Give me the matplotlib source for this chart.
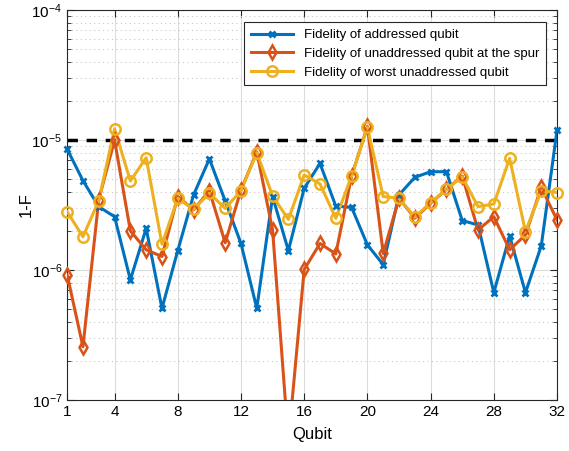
import numpy as np
import matplotlib
matplotlib.use("Agg")
import matplotlib.pyplot as plt
from matplotlib.lines import Line2D
from matplotlib.ticker import LogLocator, FixedLocator, LogFormatterMathtext, NullFormatter

plt.rcParams['font.family'] = ['Liberation Sans', 'DejaVu Sans']
plt.rcParams['mathtext.fontset'] = 'custom'
plt.rcParams['mathtext.rm'] = 'Liberation Sans'
plt.rcParams['mathtext.default'] = 'regular'

# data
qubits = np.arange(1, 33)
addressed = [8.5e-6, 4.87e-6, 3.07e-6, 2.57e-6, 8.4e-7, 2.09e-6, 5.07e-7, 1.41e-6,
             3.78e-6, 7.15e-6, 3.4e-6, 1.6e-6, 5.07e-7, 3.67e-6, 1.41e-6, 4.25e-6,
             6.6e-6, 3.1e-6, 3.03e-6, 1.56e-6, 1.1e-6, 3.78e-6, 5.16e-6, 5.7e-6,
             5.7e-6, 2.4e-6, 2.22e-6, 6.7e-7, 1.83e-6, 6.7e-7, 1.53e-6, 1.19e-5]
spur = [9.2e-7, 2.57e-7, 3.46e-6, 1.0e-5, 2.0e-6, 1.43e-6, 1.27e-6, 3.67e-6,
        2.9e-6, 4.07e-6, 1.62e-6, 4.12e-6, 8.1e-6, 2.03e-6, 4.8e-8, 1.01e-6,
        1.6e-6, 1.33e-6, 5.28e-6, 1.27e-5, 1.34e-6, 3.56e-6, 2.5e-6, 3.26e-6,
        4.17e-6, 5.28e-6, 2.03e-6, 2.57e-6, 1.43e-6, 1.86e-6, 4.32e-6, 2.42e-6]
worst = [2.81e-6, 1.8e-6, 3.41e-6, 1.22e-5, 4.84e-6, 7.3e-6, 1.58e-6, 3.56e-6,
         2.93e-6, 3.89e-6, 2.98e-6, 4.07e-6, 7.98e-6, 3.71e-6, 2.45e-6, 5.38e-6,
         4.59e-6, 2.5e-6, 5.28e-6, 1.25e-5, 3.67e-6, 3.56e-6, 2.55e-6, 3.3e-6,
         4.17e-6, 5.2e-6, 3.07e-6, 3.22e-6, 7.23e-6, 1.97e-6, 4.07e-6, 3.94e-6]
labels = ['Fidelity of addressed qubit',
          'Fidelity of unaddressed qubit at the spur',
          'Fidelity of worst unaddressed qubit']
threshold = 1e-5
xticks = [1, 4, 8, 12, 16, 20, 24, 28, 32]
ymin, ymax = 1e-7, 1e-4

colors = ['#0072BD', '#D95319', '#EDB120']
markers = [('x', 5, 2.0), ('d', 7.5, 1.8), ('o', 7.5, 1.8)]

fig = plt.figure(figsize=(5.69, 4.51), dpi=100)
ax = fig.add_axes([0.118, 0.113, 0.861, 0.865])

handles = []
for vals, c, (m, ms, mew), lab in zip([addressed, spur, worst], colors, markers, labels):
    vals = np.array(vals)
    ax.plot(qubits, vals, color=c, lw=2.2, zorder=3)
    # markers drawn unclipped so edge points are whole, but only inside the y-range
    vis = np.ma.masked_where(vals < ymin, vals)
    ax.plot(qubits, vis, ls='none', marker=m, ms=ms, mew=mew, mec=c, mfc='none',
            clip_on=False, zorder=4)
    handles.append(Line2D([], [], color=c, lw=2.2, marker=m, ms=ms, mew=mew, mfc='none'))
ax.axhline(threshold, color='k', lw=2.5, ls=(0, (3, 2.5)), zorder=2)

ax.set_yscale('log')
ax.set_ylim(ymin, ymax)
ax.set_xlim(1, 32)
ax.xaxis.set_major_locator(FixedLocator(xticks))
ax.yaxis.set_major_locator(LogLocator(base=10))
ax.yaxis.set_major_formatter(LogFormatterMathtext())
ax.yaxis.set_minor_locator(LogLocator(base=10, subs=np.arange(2, 10)))
ax.yaxis.set_minor_formatter(NullFormatter())

ax.grid(True, which='major', color='#dcdcdc', lw=0.8)
ax.grid(True, which='minor', axis='y', color='#c8c8c8', lw=0.8, ls=(0, (1, 3)))
ax.set_axisbelow(True)
ax.tick_params(which='both', direction='in', top=True, right=True, labelsize=11, color='#262626')
ax.tick_params(which='major', length=5)
ax.tick_params(which='minor', length=3)
for s in ax.spines.values():
    s.set_color('#262626')
    s.set_linewidth(0.8)

ax.set_xlabel('Qubit', fontsize=12, labelpad=6)
ax.set_ylabel('1-F', fontsize=12, labelpad=-2)

leg = ax.legend(handles, labels, loc='upper right', fontsize=9.5, fancybox=False, framealpha=1,
                edgecolor='#262626', borderpad=0.5, handlelength=3.2, labelspacing=0.5,
                bbox_to_anchor=(0.99, 0.985))
leg.get_frame().set_linewidth(0.8)

fig.savefig('out.png', dpi=100)
